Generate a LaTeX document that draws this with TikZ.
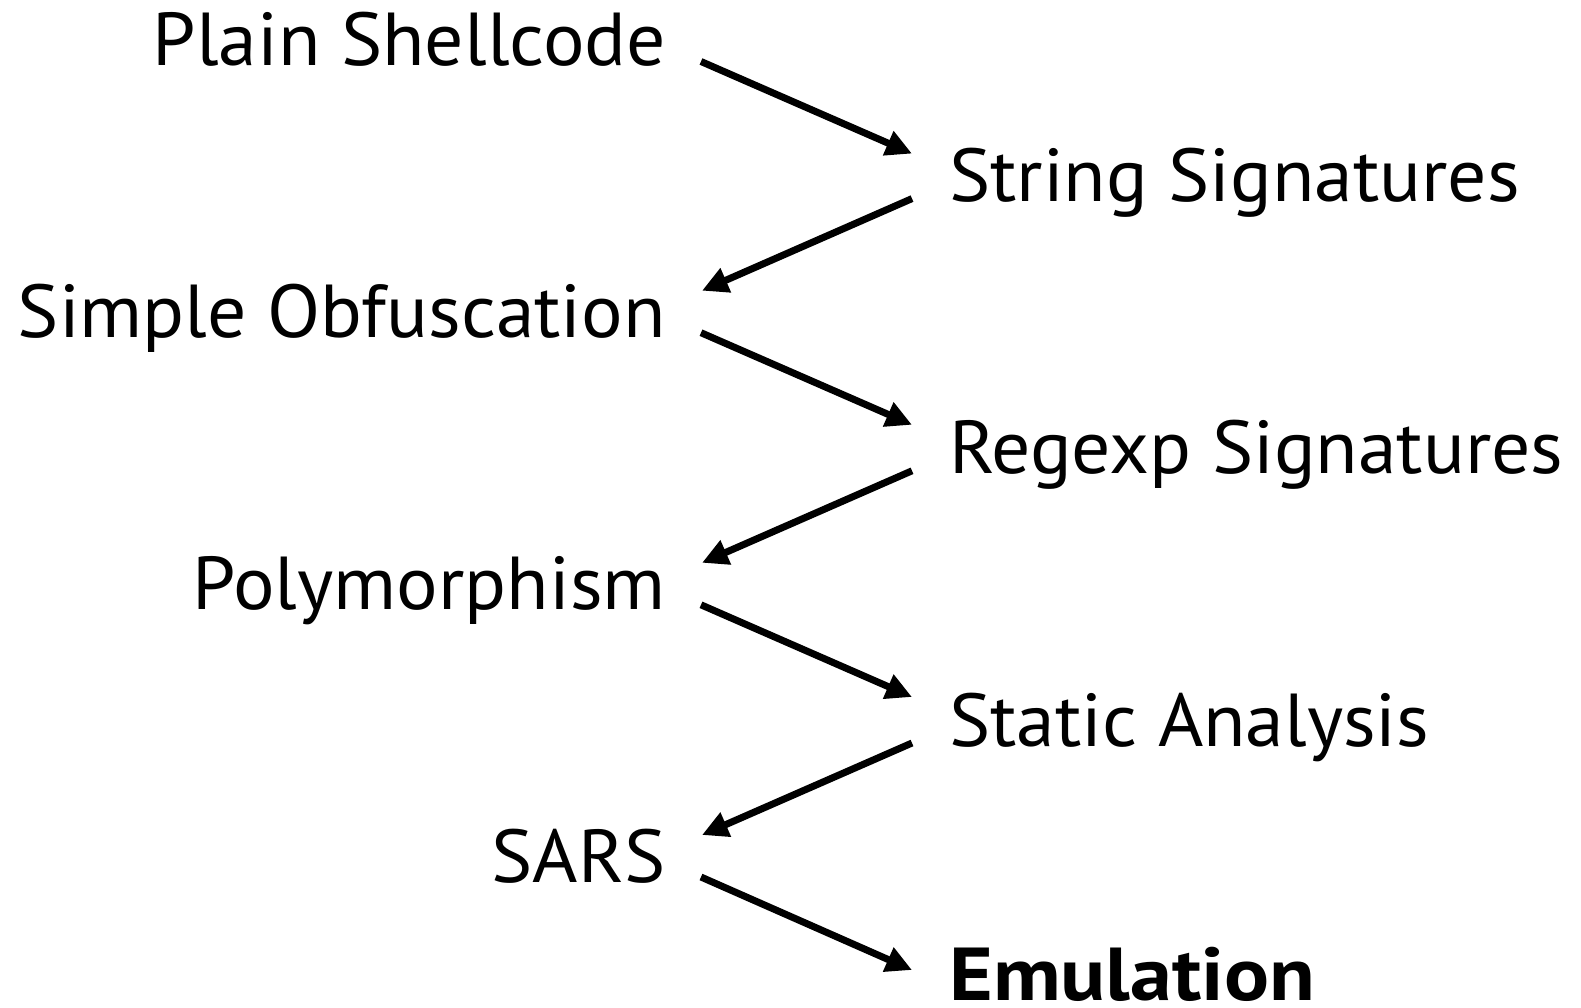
\documentclass[tikz,border=0pt]{standalone}
\usepackage{fontspec}
\setmainfont{PT Sans}[FakeStretch=1.035]
\newfontfamily\emfont{PT Sans}[FakeStretch=1.12]
\usetikzlibrary{arrows.meta}
\begin{document}
\begin{tikzpicture}[x=1pt,y=1pt,
  lbl/.style={inner sep=0pt,font=\fontsize{75}{90}\selectfont},
  lft/.style={lbl,anchor=base east},
  rgt/.style={lbl,anchor=base west},
  arr/.style={line width=7pt,-{Triangle[length=26pt,width=25pt]}}]
\useasboundingbox (0,0) rectangle (1581,-1007);
\node[lft] (a) at (666,-65.5) {Plain Shellcode};
\node[rgt] (b) at (949,-201.6) {String Signatures};
\node[lft] (c) at (666,-337.7) {Simple Obfuscation};
\node[rgt] (d) at (949,-473.8) {Regexp Signatures};
\node[lft] (e) at (666,-609.8) {Polymorphism};
\node[rgt] (f) at (949,-746) {Static Analysis};
\node[lft] (g) at (666,-882) {SARS};
\node[rgt,text depth=0pt,font=\emfont\fontsize{75}{90}\selectfont\bfseries] (h) at (949,-1000) {Emulation};
\draw[arr] ([shift={(35,4)}]a.base east) -- ([shift={(-37,48)}]b.base west);
\draw[arr] ([shift={(-37,3)}]b.base west) -- ([shift={(36,47)}]c.base east);
\draw[arr] ([shift={(35,5)}]c.base east) -- ([shift={(-37,49)}]d.base west);
\draw[arr] ([shift={(-37,3)}]d.base west) -- ([shift={(36,47)}]e.base east);
\draw[arr] ([shift={(35,5)}]e.base east) -- ([shift={(-37,49)}]f.base west);
\draw[arr] ([shift={(-37,3)}]f.base west) -- ([shift={(36,47)}]g.base east);
\draw[arr] ([shift={(35,5)}]g.base east) -- ([shift={(-37,30)}]h.base west);
\end{tikzpicture}
\end{document}
